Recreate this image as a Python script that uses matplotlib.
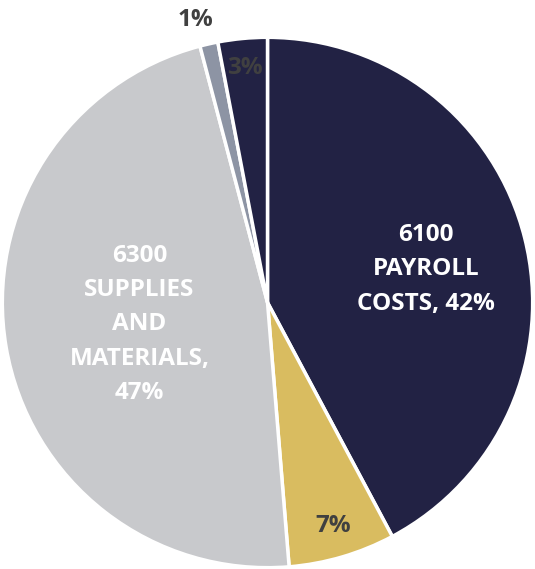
import matplotlib
matplotlib.use("Agg")
import numpy as np
import matplotlib.pyplot as plt

# slice shares, clockwise from 12 o'clock
categories = ["6100 PAYROLL COSTS", "6200", "6300 SUPPLIES AND MATERIALS", "6400", "6600"]
values = [42.2, 6.5, 47.2, 1.1, 3.0]
labels = ["6100\nPAYROLL\nCOSTS, 42%", "7%", "6300\nSUPPLIES\nAND\nMATERIALS,\n47%", "1%", "3%"]
colors = ["#222244", "#D9BC60", "#C8C9CC", "#8D94A4", "#222244"]
label_r = [0.61, 0.88, 0.49, 1.10, 0.89]
label_turn = [-2.2, 0, 0, 1.5, 0]   # small nudges (deg) so text sits like the original
label_c = ["white", "#404040", "white", "#404040", "#404040"]

plt.rcParams['font.family'] = ['Open Sans', 'DejaVu Sans']

fig = plt.figure(figsize=(5.35, 5.69), dpi=100)
ax = fig.add_axes([0.0, 0.0, 1.0, 533 / 569])
wedges, _ = ax.pie(values, colors=colors, startangle=90, counterclock=False,
                   wedgeprops=dict(edgecolor="white", linewidth=2.5))
ax.set_aspect("equal")
ax.set_xlim(-1.005, 1.005)
ax.set_ylim(-1.005, 1.005)

for w, lab, r, t, c in zip(wedges, labels, label_r, label_turn, label_c):
    ang = np.deg2rad((w.theta1 + w.theta2) / 2 + t)
    ax.text(r * np.cos(ang), r * np.sin(ang), lab, ha="center", va="center",
            color=c, fontsize=17.5, fontweight="bold", linespacing=1.58)

fig.savefig("out.png", dpi=100)
